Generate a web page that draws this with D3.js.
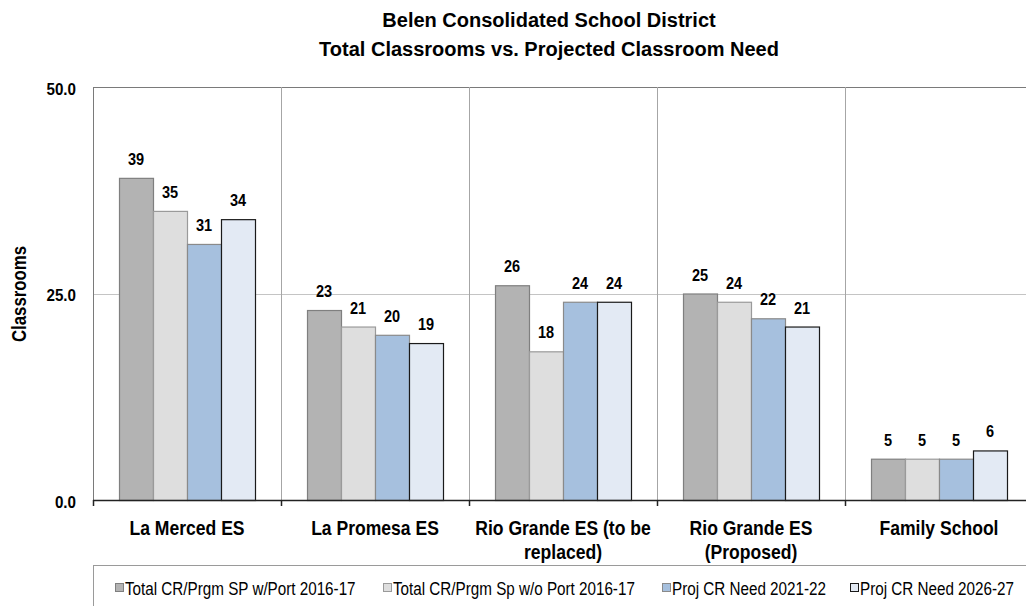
<!DOCTYPE html>
<html>
<head>
<meta charset="utf-8">
<script src="https://cdn.jsdelivr.net/npm/d3@7"></script>
<style>
  html, body { margin: 0; padding: 0; background: #fff; }
  svg { display: block; font-family: "Liberation Sans", Arial, Helvetica, sans-serif; }
</style>
</head>
<body>
<svg id="chart" width="1026" height="606"></svg>
<script>
// Schools on the x axis (multi-line labels split with \n)
const schools = ["La Merced ES", "La Promesa ES", "Rio Grande ES (to be\nreplaced)", "Rio Grande ES\n(Proposed)", "Family School"];
// Series names
const seriesNames = ["Total CR/Prgm SP w/Port 2016-17", "Total CR/Prgm Sp w/o Port 2016-17", "Proj CR Need 2021-22", "Proj CR Need 2026-27"];
// Classroom counts per series, one entry per school
const withPort2016 = [39, 23, 26, 25, 5];
const withoutPort2016 = [35, 21, 18, 24, 5];
const need2021 = [31, 20, 24, 22, 5];
const need2026 = [34, 19, 24, 21, 6];
const yTicks = [0, 25, 50];

const seriesValues = [withPort2016, withoutPort2016, need2021, need2026];
const fills = ["#b3b3b3", "#dedede", "#a6c0de", "#e3eaf4"];
const strokes = ["#7f7f7f", "#9a9a9a", "#8a8a8a", "#1a1a1a"];

const svg = d3.select("#chart");
const plotLeft = 93, plotTop = 87, plotBottom = 500, bandW = 188;
const plotRight = plotLeft + bandW * schools.length;

const x = d3.scaleBand().domain(schools).range([plotLeft, plotRight]).paddingInner(0).paddingOuter(0);
const inner = d3.scaleBand().domain(d3.range(seriesNames.length)).range([26, bandW - 26]);
const y = d3.scaleLinear().domain([0, 50]).range([plotBottom, plotTop]);

// Text helper: condensed look via horizontal scaling of a regular sans face
function label(parent, tx, ty, str, size, sx, anchor, bold, rotate) {
  const t = parent.append("text")
    .attr("transform", `translate(${tx},${ty})` + (rotate ? ` rotate(${rotate})` : "") + ` scale(${sx},1)`)
    .attr("text-anchor", anchor)
    .attr("font-size", size)
    .attr("font-weight", bold ? "bold" : "normal")
    .attr("fill", "#000")
    .text(str);
  return t;
}

// Title
label(svg, 549, 27, "Belen Consolidated School District", 20, 1.0, "middle", true);
label(svg, 549, 56, "Total Classrooms vs. Projected Classroom Need", 20, 1.0, "middle", true);

// Plot frame: top border, left border, gridline at 25, category separators
const grid = svg.append("g").attr("fill", "none").attr("stroke-width", 1);
grid.append("line").attr("x1", plotLeft).attr("x2", plotRight).attr("y1", y(50) + 0.5).attr("y2", y(50) + 0.5).attr("stroke", "#7a7a7a");
grid.append("line").attr("x1", plotLeft).attr("x2", plotRight).attr("y1", Math.round(y(25)) + 0.5).attr("y2", Math.round(y(25)) + 0.5).attr("stroke", "#c4c4c4");
grid.append("line").attr("x1", plotLeft + 0.5).attr("x2", plotLeft + 0.5).attr("y1", y(50)).attr("y2", plotBottom).attr("stroke", "#7a7a7a");
schools.slice(1).forEach(s => {
  grid.append("line").attr("x1", x(s) + 0.5).attr("x2", x(s) + 0.5).attr("y1", y(50)).attr("y2", plotBottom).attr("stroke", "#a6a6a6");
});

// Bars with value labels
schools.forEach((s, i) => {
  seriesValues.forEach((vals, k) => {
    const v = vals[i];
    const bx = x(s) + inner(k);
    svg.append("rect")
      .attr("x", bx + 0.5).attr("y", y(v) + 0.5)
      .attr("width", inner.bandwidth()).attr("height", y(0) - y(v))
      .attr("fill", fills[k]).attr("stroke", strokes[k]).attr("stroke-width", 1.2);
    label(svg, bx + inner.bandwidth() / 2, y(v) - 13, String(v), 16.5, 0.88, "middle", true);
  });
});

// Y axis tick labels (positions from the linear scale)
const yLab = svg.append("g");
y.ticks && yTicks.forEach(t => {
  label(yLab, 76, y(t) + 7.5, d3.format(".1f")(t), 16.5, 0.92, "end", true);
});

// X axis line with ticks at category boundaries
const xg = svg.append("g");
xg.append("line").attr("x1", plotLeft).attr("x2", plotRight).attr("y1", plotBottom + 0.5).attr("y2", plotBottom + 0.5)
  .attr("stroke", "#222").attr("stroke-width", 1.5);
schools.forEach(s => {
  xg.append("line").attr("x1", x(s) + 0.5).attr("x2", x(s) + 0.5).attr("y1", plotBottom).attr("y2", plotBottom + 6)
    .attr("stroke", "#222").attr("stroke-width", 1.5);
});

// Category labels
schools.forEach(s => {
  s.split("\n").forEach((ln, j) => {
    label(svg, x(s) + bandW / 2, 535 + j * 24, ln, 19.5, 0.9, "middle", true);
  });
});

// Y axis title
label(svg, 26, 294, "Classrooms", 20.5, 0.82, "middle", true, -90);

// Legend
svg.append("rect").attr("x", plotLeft + 0.5).attr("y", 565.5).attr("width", 1026).attr("height", 60)
  .attr("fill", "none").attr("stroke", "#9a9a9a");
const legendX = [115, 383, 662, 850];
seriesNames.forEach((n, k) => {
  svg.append("rect").attr("x", legendX[k] + 0.5).attr("y", 583.5).attr("width", 8).attr("height", 8)
    .attr("fill", fills[k]).attr("stroke", k === 3 ? "#1a1a1a" : strokes[k]);
  label(svg, legendX[k] + 10, 595, n, 17.5, 0.87, "start", false);
});
</script>
</body>
</html>
